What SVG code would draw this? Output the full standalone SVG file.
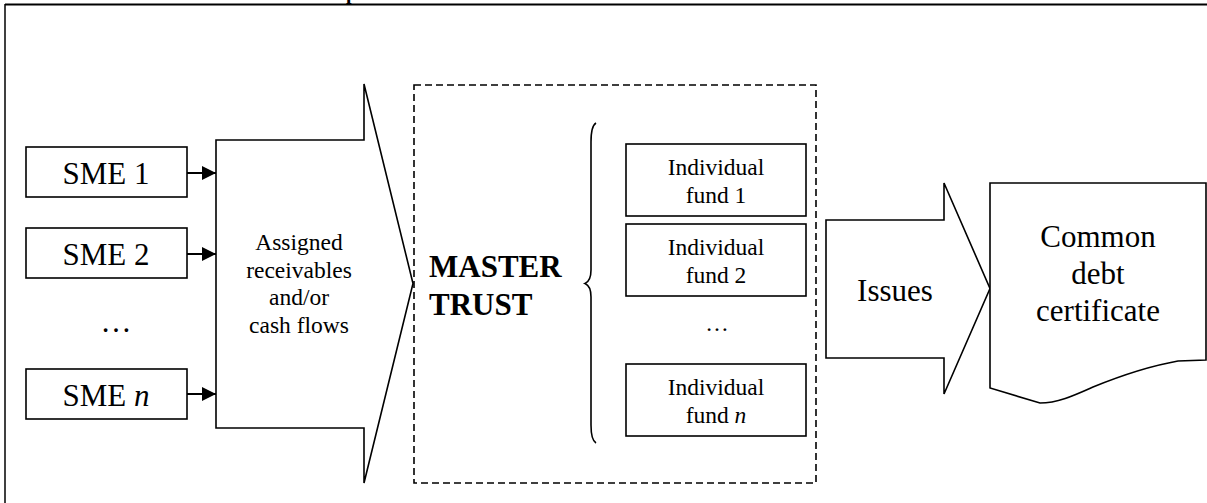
<svg xmlns="http://www.w3.org/2000/svg" width="1207" height="503" viewBox="0 0 1207 503">
<style>
  .box{fill:#fff;stroke:#000;stroke-width:1.6}
  .shape{fill:#fff;stroke:#000;stroke-width:1.6;stroke-linejoin:miter}
  .dash{fill:none;stroke:#000;stroke-width:1.6;stroke-dasharray:7,4}
  .t{font-family:'Liberation Serif','Times New Roman',serif;fill:#000;text-anchor:middle}
  .big{font-size:31px}
  .mid{font-size:23.5px}
  .bold{font-weight:bold;text-anchor:start}
  .conn{stroke:#000;stroke-width:2;fill:none}
</style>
<defs>
  <marker id="ah" markerUnits="userSpaceOnUse" markerWidth="14" markerHeight="14" refX="14" refY="7" orient="auto">
    <path d="M0,0 L14,7 L0,14 Z" fill="#000"/>
  </marker>
</defs>
<rect width="1207" height="503" fill="#fff"/>
<g id="frame">
  <line x1="5" y1="4.5" x2="1207" y2="4.5" stroke="#000" stroke-width="1.8"/>
  <line x1="5" y1="4" x2="5" y2="503" stroke="#000" stroke-width="1.5"/>
  <text x="346" y="-1.5" font-family="'Liberation Serif', serif" font-weight="bold" font-size="20">p</text>
</g>
<g id="sme1">
  <rect class="box" x="26" y="147" width="161" height="50"/>
  <text class="t big" x="106" y="184">SME 1</text>
</g>
<g id="sme2">
  <rect class="box" x="26" y="228" width="161" height="50"/>
  <text class="t big" x="106" y="265">SME 2</text>
</g>
<g id="sme-dots">
  <text class="t big" x="116" y="332">…</text>
</g>
<g id="smen">
  <rect class="box" x="26" y="369" width="161" height="50"/>
  <text class="t big" x="106" y="406">SME <tspan font-style="italic">n</tspan></text>
</g>
<g id="assigned">
  <polygon class="shape" points="216,140 364,140 364,84 413,283.5 364,483 364,428 216,428"/>
  <text class="t mid" x="299" y="250">Assigned</text>
  <text class="t mid" x="299" y="277.5">receivables</text>
  <text class="t mid" x="299" y="305">and/or</text>
  <text class="t mid" x="299" y="332.5">cash flows</text>
</g>
<g id="master-trust">
  <rect class="dash" x="414" y="85" width="402" height="398"/>
  <text class="t big bold" x="429" y="277">MASTER</text>
  <text class="t big bold" x="429" y="315">TRUST</text>
  <path d="M596,123 Q591,126 591,142 L591,270 Q591,281 585,283.5 Q591,286 591,297 L591,425 Q591,440 596,443" fill="none" stroke="#000" stroke-width="1.6"/>
</g>
<g id="fund1">
  <rect class="box" x="626" y="144" width="180" height="72"/>
  <text class="t mid" x="716" y="175">Individual</text>
  <text class="t mid" x="716" y="203">fund 1</text>
</g>
<g id="fund2">
  <rect class="box" x="626" y="224" width="180" height="72"/>
  <text class="t mid" x="716" y="255">Individual</text>
  <text class="t mid" x="716" y="283">fund 2</text>
</g>
<g id="fund-dots">
  <text class="t mid" x="717" y="331">…</text>
</g>
<g id="fundn">
  <rect class="box" x="626" y="364" width="180" height="72"/>
  <text class="t mid" x="716" y="395">Individual</text>
  <text class="t mid" x="716" y="423">fund <tspan font-style="italic">n</tspan></text>
</g>
<g id="issues">
  <polygon class="shape" points="826,220 944,220 944,183 990,288.5 944,394 944,358 826,358"/>
  <text class="t big" x="895" y="301">Issues</text>
</g>
<g id="certificate">
  <path class="shape" d="M990,183 L1206,183 L1206,360 L1178,361 C1150,366 1120,376 1093,387 C1075,395 1058,403 1040,403 L990,388 Z"/>
  <text class="t big" x="1098" y="247">Common</text>
  <text class="t big" x="1098" y="284">debt</text>
  <text class="t big" x="1098" y="321">certificate</text>
</g>
<g id="connectors">
  <line class="conn" x1="187" y1="173" x2="216" y2="173" marker-end="url(#ah)"/>
  <line class="conn" x1="187" y1="254" x2="216" y2="254" marker-end="url(#ah)"/>
  <line class="conn" x1="187" y1="394" x2="216" y2="394" marker-end="url(#ah)"/>
</g>
</svg>
